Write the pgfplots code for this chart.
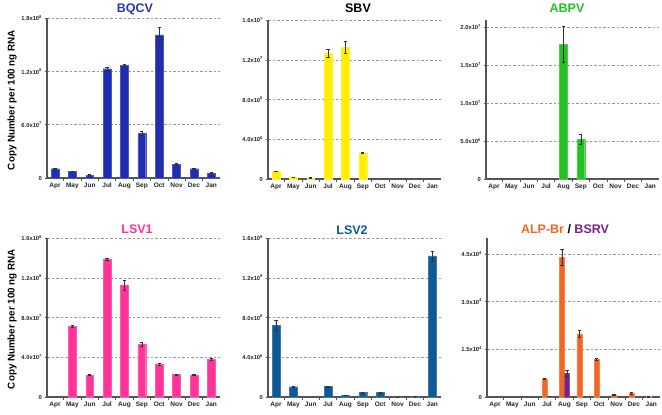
\documentclass[border=0pt]{standalone}
\usepackage{pgfplots}
\pgfplotsset{compat=1.18}
\usepackage{fontspec}
\setmainfont{Liberation Sans}
\definecolor{cBQ}{HTML}{1F2DB0}
\definecolor{cBQt}{HTML}{2B3AA8}
\definecolor{cSB}{HTML}{FFEE00}
\definecolor{cAB}{HTML}{22C222}
\definecolor{cLS1}{HTML}{FF3399}
\definecolor{cLS2}{HTML}{0D5A96}
\definecolor{cALP}{HTML}{F26522}
\definecolor{cBS}{HTML}{7B2382}
\definecolor{axgray}{HTML}{555555}
\pgfplotsset{
  panel/.style={
    scale only axis, width=173pt, height=159pt,
    anchor=south west,
    axis x line*=bottom, axis y line*=left,
    axis line style={axgray, line width=1.2pt, -},
    xmin=-0.46, xmax=9.5, ymin=0,
    xtick={0,...,9},
    xticklabels={Apr,May,Jun,Jul,Aug,Sep,Oct,Nov,Dec,Jan},
    minor xtick={0.5,1.5,...,8.5},
    major x tick style={draw=none},
    minor x tick style={axgray, line width=0.6pt},
    minor tick length=2.5pt,
    major y tick style={axgray, line width=0.6pt},
    major tick length=2.5pt,
    tick align=outside,
    x tick label style={font=\fontsize{6.5}{7}\selectfont\bfseries, yshift=1pt, text=black!85},
    y tick label style={font=\fontsize{5.8}{6}\selectfont\bfseries, xshift=1pt, text=black!85},
    scaled y ticks=false,
    ymajorgrids, grid style={gray!80, dash pattern=on 2.5pt off 2pt, line width=0.6pt},
    ybar, bar width=7.8pt,
    clip=false,
    error bars/y dir=both, error bars/y explicit,
    error bars/error bar style={black!80, line width=0.5pt},
    error bars/error mark options={rotate=90, mark size=1.6pt, black!80, line width=0.5pt},
  },
}
\begin{document}
\begin{tikzpicture}[x=1pt,y=1pt]
\path (0,0) rectangle (662,413);
% ---------------- BQCV
\begin{axis}[panel, at={(47pt,236pt)}, height=160pt, ymax=1.8e8,
  ytick={0,6e7,1.2e8,1.8e8},
  yticklabels={0,6.0x10\textsuperscript{7},1.2x10\textsuperscript{8},1.8x10\textsuperscript{8}}]
\addplot[fill=cBQ, draw=cBQ!80!white, line width=0.4pt] coordinates {
 (0,1.05e7) +- (0,6e5)
 (1,7.5e6) +- (0,4e5)
 (2,3.4e6) +- (0,4e5)
 (3,1.23e8) +- (0,1.2e6)
 (4,1.27e8) +- (0,9e5)
 (5,5.0e7) +- (0,2.2e6)
 (6,1.61e8) +- (0,9e6)
 (7,1.58e7) +- (0,6e5)
 (8,1.05e7) +- (0,4e5)
 (9,5.6e6) +- (0,4e5)
};
\end{axis}
% ---------------- SBV
\begin{axis}[panel, at={(268pt,235pt)}, ymax=1.6e7,
  ytick={0,4e6,8e6,1.2e7,1.6e7},
  yticklabels={0,4.0x10\textsuperscript{6},8.0x10\textsuperscript{6},1.2x10\textsuperscript{7},1.6x10\textsuperscript{7}}]
\addplot[fill=cSB, draw=cSB!80!white, line width=0.4pt] coordinates {
 (0,8.0e5) +- (0,3e4)
 (1,1.7e5) +- (0,2e4)
 (2,1.3e5) +- (0,2e4)
 (3,1.268e7) +- (0,4e5)
 (4,1.325e7) +- (0,6e5)
 (5,2.65e6) +- (0,8e4)
};
\end{axis}
% ---------------- ABPV
\begin{axis}[panel, at={(486pt,235pt)}, ymax=2.09e7,
  ytick={0,5e6,1e7,1.5e7,2e7},
  yticklabels={0,5.0x10\textsuperscript{6},1.0x10\textsuperscript{7},1.5x10\textsuperscript{7},2.0x10\textsuperscript{7}}]
\addplot[fill=cAB, draw=cAB!80!white, line width=0.4pt] coordinates {
 (4,1.77e7) +- (0,2.4e6)
 (5,5.26e6) +- (0,6.5e5)
};
\end{axis}
% ---------------- LSV1
\begin{axis}[panel, at={(47pt,17pt)}, ymax=1.6e8,
  ytick={0,4e7,8e7,1.2e8,1.6e8},
  yticklabels={0,4.0x10\textsuperscript{7},8.0x10\textsuperscript{7},1.2x10\textsuperscript{8},1.6x10\textsuperscript{8}}]
\addplot[fill=cLS1, draw=cLS1!80!white, line width=0.4pt] coordinates {
 (1,7.13e7) +- (0,7e5)
 (2,2.24e7) +- (0,6e5)
 (3,1.386e8) +- (0,8e5)
 (4,1.128e8) +- (0,5e6)
 (5,5.36e7) +- (0,2e6)
 (6,3.35e7) +- (0,1e6)
 (7,2.28e7) +- (0,6e5)
 (8,2.24e7) +- (0,6e5)
 (9,3.78e7) +- (0,1.2e6)
};
\end{axis}
% ---------------- LSV2
\begin{axis}[panel, at={(268pt,17pt)}, ymax=1.6e9,
  ytick={0,4e8,8e8,1.2e9,1.6e9},
  yticklabels={0,4.0x10\textsuperscript{8},8.0x10\textsuperscript{8},1.2x10\textsuperscript{9},1.6x10\textsuperscript{9}}]
\addplot[fill=cLS2, draw=cLS2!80!white, line width=0.4pt] coordinates {
 (0,7.23e8) +- (0,5e7)
 (1,1.04e8) +- (0,5e6)
 (3,1.07e8) +- (0,5e6)
 (4,2.0e7) +- (0,2e6)
 (5,4.4e7) +- (0,3e6)
 (6,4.7e7) +- (0,4e6)
 (7,2.0e6) +- (0,1e6)
 (8,5.0e6) +- (0,1e6)
 (9,1.42e9) +- (0,5e7)
};
\end{axis}
% ---------------- ALP-Br / BSRV
\begin{axis}[panel, at={(487pt,17pt)}, ymax=5.0e4, bar width=5pt,
  ytick={0,1.5e4,3e4,4.5e4},
  yticklabels={0,1.5x10\textsuperscript{4},3.0x10\textsuperscript{4},4.5x10\textsuperscript{4}}]
\addplot[fill=cALP, draw=cALP!80!white, line width=0.4pt, bar shift=-2.5pt] coordinates {
 (3,5760) +- (0,300)
 (4,43900) +- (0,2500)
 (5,19900) +- (0,1100)
 (6,11800) +- (0,300)
 (7,630) +- (0,200)
 (8,1150) +- (0,250)
 (9,150) +- (0,80)
};
\addplot[fill=cBS, draw=cBS!80!white, line width=0.4pt, bar shift=2.5pt] coordinates {
 (3,200) +- (0,50)
 (4,7540) +- (0,850)
};
\end{axis}
% ---------------- titles
\node[anchor=base, font=\fontsize{12.5}{14}\selectfont\bfseries, text=cBQt] at (135,402) {BQCV};
\node[anchor=base, font=\fontsize{12.5}{14}\selectfont\bfseries, text=black] at (358,402) {SBV};
\node[anchor=base, font=\fontsize{12.5}{14}\selectfont\bfseries, text=cAB] at (567,402) {ABPV};
\node[anchor=base, font=\fontsize{12.5}{14}\selectfont\bfseries, text=cLS1] at (137,181) {LSV1};
\node[anchor=base, font=\fontsize{12.5}{14}\selectfont\bfseries, text=cLS2] at (352,180) {LSV2};
\node[anchor=base, font=\fontsize{12.5}{14}\selectfont\bfseries] at (565,181) {\textcolor{cALP}{ALP-Br} \textcolor{black}{/} \textcolor{cBS}{BSRV}};
% ---------------- y labels
\node[rotate=90, font=\fontsize{9.8}{11}\selectfont\bfseries] at (12,314) {Copy Number per 100 ng RNA};
\node[rotate=90, font=\fontsize{9.8}{11}\selectfont\bfseries] at (12,95) {Copy Number per 100 ng RNA};
\end{tikzpicture}
\end{document}
